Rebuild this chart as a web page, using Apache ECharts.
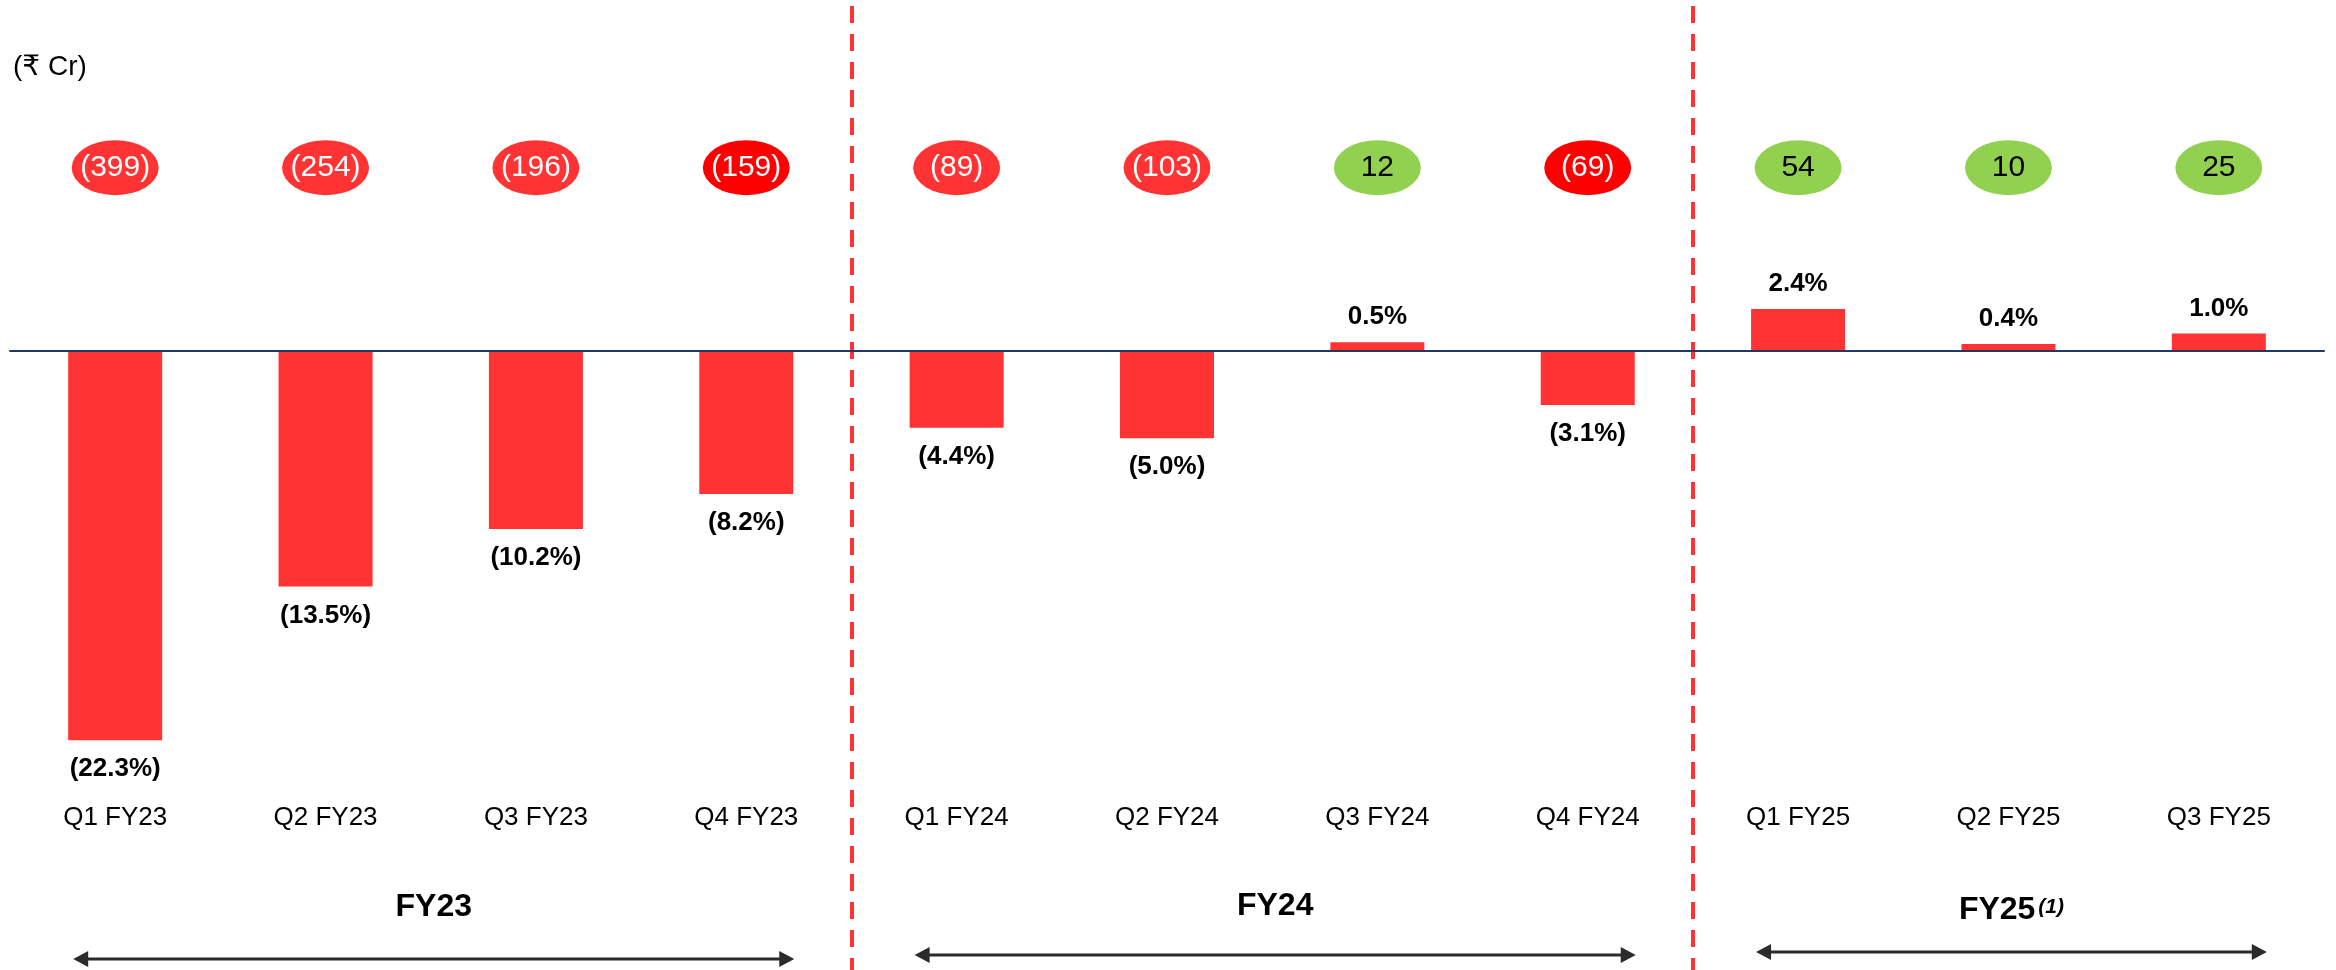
<!DOCTYPE html>
<html>
<head>
<meta charset="utf-8">
<title>EBITDA margin by quarter</title>
<script src="https://cdn.jsdelivr.net/npm/echarts@6/dist/echarts.min.js"></script>
<style>
  html, body { margin: 0; padding: 0; background: #ffffff; }
  #chart { width: 2336px; height: 970px; }
</style>
</head>
<body>
<div id="chart"></div>
<script>
// ---- data ----
const quarters = ['Q1 FY23', 'Q2 FY23', 'Q3 FY23', 'Q4 FY23', 'Q1 FY24', 'Q2 FY24', 'Q3 FY24', 'Q4 FY24', 'Q1 FY25', 'Q2 FY25', 'Q3 FY25'];
const marginPct = [-22.3, -13.5, -10.2, -8.2, -4.4, -5.0, 0.5, -3.1, 2.4, 0.4, 1.0];
const amountCr = [-399, -254, -196, -159, -89, -103, 12, -69, 54, 10, 25];
const fiscalYears = ['FY23', 'FY24', 'FY25'];
const yearNotes = ['', '', '(1)'];
const yearFirstQuarter = ['Q1 FY23', 'Q1 FY24', 'Q1 FY25'];
const yearLastQuarter = ['Q4 FY23', 'Q4 FY24', 'Q3 FY25'];
const accentQuarters = ['Q4 FY23', 'Q4 FY24'];
const unitLabel = '(₹ Cr)';

// ---- styling / layout ----
const FONT = "'Liberation Sans', Arial, 'DejaVu Sans', 'Noto Sans', sans-serif";
const BAR_RED = '#FF3333';
const ACCENT_RED = '#FF0000';
const GAIN_GREEN = '#92D050';
const BASE_NAVY = '#1F3864';
const ARROW_GREY = '#2b2b2b';
const BADGE_LEVEL = 10.5;            // badge row height, in axis units
const yearLabelY = [907, 906, 910];
const yearArrowY = [959, 955, 952];

const chart = echarts.init(document.getElementById('chart'), null, { renderer: 'canvas' });

// year separators sit on the band boundary before each year's first quarter
const splitAt = yearFirstQuarter.slice(1).map(q => quarters.indexOf(q));

function pctText(v) {
  return v < 0 ? '(' + Math.abs(v).toFixed(1) + '%)' : v.toFixed(1) + '%';
}
function crText(v) {
  return v < 0 ? '(' + Math.abs(v) + ')' : String(v);
}

chart.setOption({
  animation: false,
  backgroundColor: '#ffffff',
  title: {
    text: unitLabel,
    left: 13,
    top: 53,
    padding: 0,
    textStyle: { fontFamily: FONT, fontSize: 28, fontWeight: 'normal', color: '#000000' }
  },
  grid: [
    { left: 10, right: 12, top: 0, bottom: 0 },
    { left: 10, right: 12, top: 790, height: 10 }
  ],
  xAxis: [
    {
      type: 'category',
      gridIndex: 0,
      data: quarters,
      z: 5,
      axisLine: { onZero: true, lineStyle: { color: BASE_NAVY, width: 2 } },
      axisTick: { show: false },
      axisLabel: { show: false },
      splitLine: {
        show: true,
        showMaxLine: false,
        interval: (idx) => splitAt.indexOf(idx) !== -1,
        lineStyle: { color: BAR_RED, width: 4, type: [17, 11], dashOffset: 22 }
      }
    },
    {
      type: 'category',
      gridIndex: 1,
      data: quarters,
      axisLine: { show: false },
      axisTick: { show: false },
      axisLabel: { margin: 5, fontFamily: FONT, fontSize: 26, color: '#000000', interval: 0 }
    }
  ],
  yAxis: [
    { type: 'value', gridIndex: 0, min: -35.47, max: 20.11, show: false },
    { type: 'value', gridIndex: 1, show: false }
  ],
  series: [
    {
      type: 'bar',
      xAxisIndex: 0,
      yAxisIndex: 0,
      barWidth: 94,
      silent: true,
      itemStyle: { color: BAR_RED },
      label: {
        show: true,
        fontFamily: FONT,
        fontSize: 26,
        fontWeight: 'bold',
        color: '#000000',
        formatter: (p) => pctText(p.value)
      },
      data: marginPct.map(v => ({
        value: v,
        label: v < 0 ? { position: 'bottom', distance: 16 } : { position: 'top', distance: 12 }
      }))
    },
    {
      type: 'scatter',
      xAxisIndex: 0,
      yAxisIndex: 0,
      symbol: 'circle',
      symbolSize: [87, 55],
      silent: true,
      z: 4,
      itemStyle: { opacity: 1 },
      label: {
        show: true,
        position: 'inside',
        fontFamily: FONT,
        fontSize: 30,
        formatter: (p) => crText(amountCr[p.dataIndex])
      },
      data: amountCr.map((v, i) => {
        const fill = v >= 0 ? GAIN_GREEN : (accentQuarters.indexOf(quarters[i]) !== -1 ? ACCENT_RED : BAR_RED);
        return {
          value: [i, BADGE_LEVEL],
          itemStyle: { color: fill, opacity: 1 },
          label: { color: v >= 0 ? '#000000' : '#ffffff' }
        };
      })
    }
  ]
});

// Fiscal-year captions with double-headed span arrows underneath
const graphics = [];
fiscalYears.forEach((fy, k) => {
  const x0 = chart.convertToPixel({ xAxisIndex: 0 }, yearFirstQuarter[k]);
  const x1 = chart.convertToPixel({ xAxisIndex: 0 }, yearLastQuarter[k]);
  const left = x0 - 42;
  const right = x1 + 48;
  const mid = (left + right) / 2;
  const ay = yearArrowY[k];
  const head = 15, half = 8;

  graphics.push({
    type: 'text',
    style: {
      x: mid,
      y: yearLabelY[k],
      text: '{m|' + fy + '}' + (yearNotes[k] ? '{s|' + yearNotes[k] + '}' : ''),
      align: 'center',
      verticalAlign: 'middle',
      rich: {
        m: { fontFamily: FONT, fontSize: 32, fontWeight: 'bold', lineHeight: 32, fill: '#000000' },
        s: { fontFamily: FONT, fontSize: 21, fontWeight: 'bold', fontStyle: 'italic', fill: '#000000',
             verticalAlign: 'top', padding: [3, 0, 0, 3] }
      }
    }
  });
  graphics.push({
    type: 'line',
    shape: { x1: left + head - 2, y1: ay, x2: right - head + 2, y2: ay },
    style: { stroke: ARROW_GREY, lineWidth: 3 }
  });
  graphics.push({
    type: 'polygon',
    shape: { points: [[left, ay], [left + head, ay - half], [left + head, ay + half]] },
    style: { fill: ARROW_GREY }
  });
  graphics.push({
    type: 'polygon',
    shape: { points: [[right, ay], [right - head, ay - half], [right - head, ay + half]] },
    style: { fill: ARROW_GREY }
  });
});

chart.setOption({ graphic: graphics });
</script>
</body>
</html>
